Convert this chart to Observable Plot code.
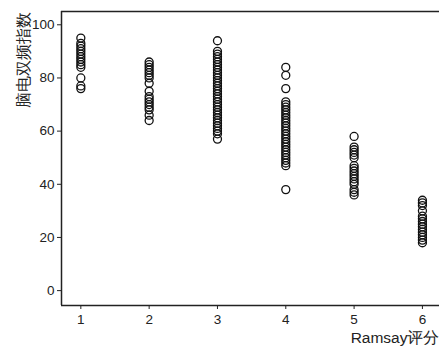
<!DOCTYPE html>
<html>
<head>
<meta charset="utf-8">
<script src="https://cdn.jsdelivr.net/npm/d3@7"></script>
<script src="https://cdn.jsdelivr.net/npm/@observablehq/plot@0.6"></script>
<style>
  body { margin: 0; background: #fff; }
  svg { font-family: "Liberation Sans", Arial, sans-serif; }
</style>
</head>
<body>
<div id="chart"></div>
<script>
const ramsay = [1, 2, 3, 4, 5, 6];
const bis1 = [95, 93, 92, 91, 90, 89, 88, 87, 86, 85, 84, 80, 77, 76];
const bis2 = [86, 85, 84, 83, 82, 81, 80, 78, 75, 73, 72, 71, 70, 69, 68, 66, 64];
const bis3 = [94, 90, 89, 88, 87, 86, 85, 84, 83, 82, 81, 80, 79, 78, 77, 76, 75, 74, 73, 72, 71, 70, 69, 68, 67, 66, 65, 64, 63, 62, 61, 60, 59, 57];
const bis4 = [84, 81, 76, 71, 70, 69, 68, 67, 66, 65, 64, 63, 62, 61, 60, 59, 58, 57, 56, 55, 54, 53, 52, 51, 50, 49, 48, 47, 38];
const bis5 = [58, 54, 53, 52, 51, 50, 47, 46, 45, 44, 43, 42, 41, 40, 38, 37, 36];
const bis6 = [34, 33, 32, 30, 28, 27, 26, 25, 24, 23, 22, 21, 20, 19, 18];
const yTicks = [0, 20, 40, 60, 80, 100];
const xTitle = "Ramsay评分";
const yTitle = "脑电双频指数";

const groups = [bis1, bis2, bis3, bis4, bis5, bis6];
const data = groups.flatMap((vals, i) => vals.map(v => ({ramsay: ramsay[i], bis: v})));

const xDomain = [0.717, 6.25];
const yDomain = [-5.6, 105];

const chart = Plot.plot({
  width: 439,
  height: 347,
  marginLeft: 61,
  marginTop: 11,
  marginBottom: 42,
  marginRight: 0,
  style: {fontSize: "13.5px", color: "#222", background: "#fff"},
  x: {domain: xDomain, ticks: ramsay, tickFormat: d3.format("d"), label: null, tickSize: 4, tickPadding: 5},
  y: {domain: yDomain, ticks: yTicks, label: null, tickSize: 4, tickPadding: 3},
  marks: [
    Plot.ruleX([xDomain[0]], {stroke: "#222", strokeWidth: 1.5}),
    Plot.ruleY(yDomain, {stroke: "#222", strokeWidth: 1.5}),
    Plot.dot(data, {x: "ramsay", y: "bis", r: 4, stroke: "#111", strokeWidth: 1.3, fill: "none"}),
    Plot.text([yTitle], {frameAnchor: "top-left", rotate: -90, dx: -44, dy: 48, textAnchor: "middle", fontSize: 16, fill: "#222"}),
    Plot.text([xTitle], {frameAnchor: "bottom-right", textAnchor: "end", dx: 0, dy: 37, fontSize: 15.5, fill: "#222"})
  ]
});
document.getElementById("chart").appendChild(chart);
</script>
</body>
</html>
